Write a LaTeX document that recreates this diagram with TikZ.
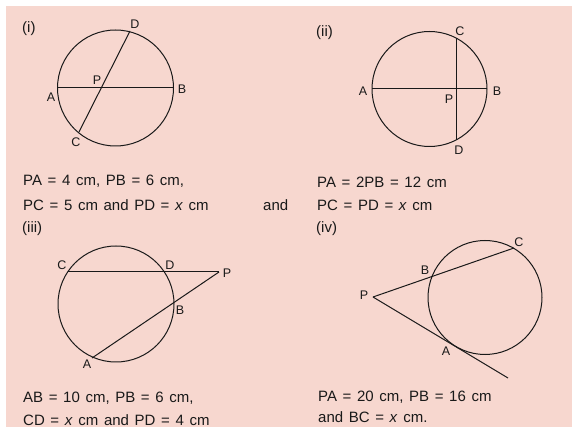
\documentclass[tikz,border=0pt]{standalone}
\usepackage{fontspec}
\setmainfont[WordSpace=1.35]{Liberation Sans}
\begin{document}
\begin{tikzpicture}[x=1pt,y=-1pt,
  geo/.style={line width=1pt,draw=black!90},
  lbl/.style={font=\fontsize{12.5}{14}\selectfont,inner sep=0pt,text=black!90},
  txt/.style={font=\fontsize{15}{17}\selectfont,inner sep=0pt,anchor=west,text=black!90},
  pt/.style={inner sep=0pt,minimum size=0pt}]
\definecolor{paper}{RGB}{247,215,207}
\useasboundingbox (0,0) rectangle (576,430);
\fill[white] (0,0) rectangle (576,430);
\fill[paper] (5.5,6) rectangle (572,427);

% ---------- (i)
\node[txt] (ti) at (22,29) {(i)};
\draw[geo] (115.5,88) circle (58);
\coordinate (iA) at (57.5,88);
\coordinate (iB) at (173.5,88);
\coordinate (iD) at (130,31);
\coordinate (iC) at (79,132);
\coordinate (iP) at (103,88);
\draw[geo] (iA) -- (iB);
\draw[geo] (iD) -- (iC);
\node[lbl] (iDl) at (135,24) {D};
\node[lbl] (iPl) at (97,80) {P};
\node[lbl] (iAl) at (51,97) {A};
\node[lbl] (iBl) at (182,89) {B};
\node[lbl] (iCl) at (76,142) {C};
\node[txt] (i1) at (23,181) {PA = 4 cm, PB = 6 cm,};
\node[txt] (i2) at (23,205) {PC = 5 cm and PD = \textit{x} cm};
\node[txt] (and) at (263,205) {and};

% ---------- (ii)
\node[txt] (tii) at (316,33) {(ii)};
\draw[geo] (429.5,89) circle (57.5);
\coordinate (jA) at (372,89);
\coordinate (jB) at (487,89);
\coordinate (jC) at (456,38);
\coordinate (jD) at (456,140);
\draw[geo] (jA) -- (jB);
\draw[geo] (jC) -- (jD);
\node[lbl] (jCl) at (460,31) {C};
\node[lbl] (jDl) at (459,150) {D};
\node[lbl] (jAl) at (363,91) {A};
\node[lbl] (jBl) at (497,91) {B};
\node[lbl] (jPl) at (449,99) {P};
\node[txt] (j1) at (317,182) {PA = 2PB = 12 cm};
\node[txt] (j2) at (317,205) {PC = PD = \textit{x} cm};

% ---------- (iii)
\node[txt] (tiii) at (22,229) {(iii)};
\draw[geo] (116,304) circle (58);
\coordinate (kC) at (68,272);
\coordinate (kD) at (164,272);
\coordinate (kP) at (219,272);
\coordinate (kB) at (173,302);
\coordinate (kA) at (92,358);
\draw[geo] (kC) -- (kP);
\draw[geo] (kP) -- (kA);
\node[lbl] (kCl) at (62,265) {C};
\node[lbl] (kDl) at (170,265) {D};
\node[lbl] (kPl) at (227,273) {P};
\node[lbl] (kBl) at (180,310) {B};
\node[lbl] (kAl) at (87,364) {A};
\node[txt] (k1) at (23,398) {AB = 10 cm, PB = 6 cm,};
\node[txt] (k2) at (23,420) {CD = \textit{x} cm and PD = 4 cm};

% ---------- (iv)
\node[txt] (tiv) at (316,229) {(iv)};
\draw[geo] (485,297.5) circle (57);
\coordinate (lP) at (373,297);
\coordinate (lC) at (514,248);
\coordinate (lB) at (432,276);
\coordinate (lA) at (455.5,346);
\coordinate (lE) at (508,378);
\draw[geo] (lP) -- (lC);
\draw[geo] (lP) -- (lE);
\node[lbl] (lCl) at (519,242) {C};
\node[lbl] (lBl) at (425,270) {B};
\node[lbl] (lPl) at (364,295) {P};
\node[lbl] (lAl) at (446,351) {A};
\node[txt] (l1) at (318,397) {PA = 20 cm, PB = 16 cm};
\node[txt] (l2) at (318,417) {and BC = \textit{x} cm.};
\end{tikzpicture}
\end{document}
